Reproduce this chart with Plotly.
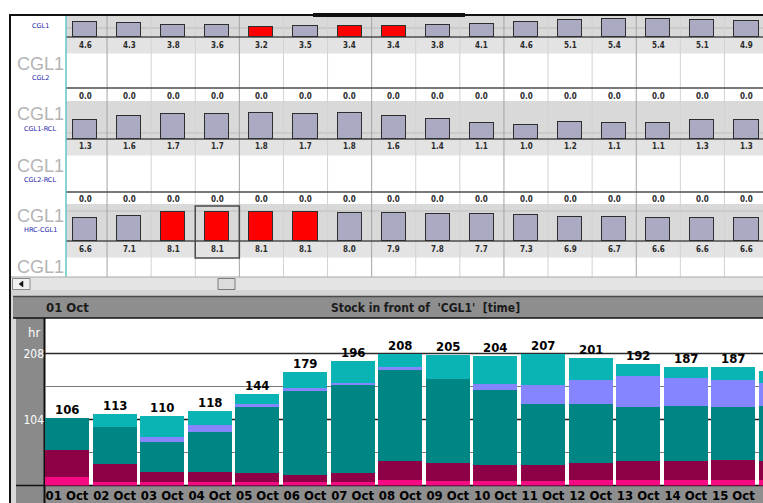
import plotly.graph_objects as go

# ---------------- data ----------------
DAYS = ["01 Oct", "02 Oct", "03 Oct", "04 Oct", "05 Oct", "06 Oct", "07 Oct", "08 Oct",
        "09 Oct", "10 Oct", "11 Oct", "12 Oct", "13 Oct", "14 Oct", "15 Oct", "16 Oct"]

ROW_TITLE = "CGL1"
ROW_SUBTITLES = ["CGL1", "CGL2", "CGL1-RCL", "CGL2-RCL", "HRC-CGL1"]

CGL1_VALUES = [4.6, 4.3, 3.8, 3.6, 3.2, 3.5, 3.4, 3.4, 3.8, 4.1, 4.6, 5.1, 5.4, 5.4, 5.1, 4.9]
CGL2_VALUES = [0.0, 0.0, 0.0, 0.0, 0.0, 0.0, 0.0, 0.0, 0.0, 0.0, 0.0, 0.0, 0.0, 0.0, 0.0, 0.0]
CGL1_RCL_VALUES = [1.3, 1.6, 1.7, 1.7, 1.8, 1.7, 1.8, 1.6, 1.4, 1.1, 1.0, 1.2, 1.1, 1.1, 1.3, 1.3]
CGL2_RCL_VALUES = [0.0, 0.0, 0.0, 0.0, 0.0, 0.0, 0.0, 0.0, 0.0, 0.0, 0.0, 0.0, 0.0, 0.0, 0.0, 0.0]
HRC_CGL1_VALUES = [6.6, 7.1, 8.1, 8.1, 8.1, 8.1, 8.0, 7.9, 7.8, 7.7, 7.3, 6.9, 6.7, 6.6, 6.6, 6.6]

CGL1_LOW_LIMIT = 3.45
HRC_HIGH_LIMIT = 8.05

STOCK_PINK = [13, 5, 5, 5, 5, 5, 5, 8, 7, 7, 7, 8, 9, 8, 8, 8]
STOCK_MAROON = [43, 29, 16, 16, 14, 11, 14, 30, 28, 26, 26, 28, 30, 30, 32, 30]
STOCK_TEAL = [50, 58, 47, 63, 104, 134, 140, 145, 133, 118, 96, 93, 85, 88, 83, 88]
STOCK_LAVENDER = [0, 0, 9, 12, 6, 3, 3, 3, 0, 9, 29, 37, 48, 44, 43, 35]
STOCK_CYAN = [0, 21, 33, 22, 15, 26, 34, 22, 37, 44, 49, 35, 20, 17, 21, 20]

Y_TICKS = [104, 208]
Y_UNIT = "hr"
CHART_TITLE = "Stock in front of\u00a0\u00a0'CGL1'\u00a0\u00a0[time]"
CURRENT_DAY = "01 Oct"

# ---------------- layout helpers ----------------
W, H = 763, 503
NARROW = "DejaVu Sans Condensed, Liberation Sans Narrow, Arial Narrow, sans-serif"
SANS = "Liberation Sans, Arial, sans-serif"


def px(x):
    return x / W


def py(y):
    return 1 - y / H


shapes = []
annotations = []


def rect(x0, y0, x1, y1, fill, line=None, lw=0, layer="below"):
    shapes.append(dict(type="rect", xref="paper", yref="paper",
                       x0=px(x0), x1=px(x1), y0=py(y1), y1=py(y0),
                       fillcolor=fill, line=dict(color=line or fill, width=lw),
                       layer=layer))


def hline(y, x0, x1, color, width=1):
    shapes.append(dict(type="line", xref="paper", yref="paper",
                       x0=px(x0), x1=px(x1), y0=py(y), y1=py(y),
                       line=dict(color=color, width=width), layer="below"))


def vline(x, y0, y1, color, width=1):
    shapes.append(dict(type="line", xref="paper", yref="paper",
                       x0=px(x), x1=px(x), y0=py(y0), y1=py(y1),
                       line=dict(color=color, width=width), layer="below"))


def label(x, y, text, font, xanchor="center"):
    annotations.append(dict(xref="paper", yref="paper", x=px(x), y=py(y), text=text,
                            xanchor=xanchor, yanchor="middle", showarrow=False, font=font))


# column geometry of the upper grid (pixel center of first column, column pitch)
COL0, COLW = 85, 44.1
GRID_LEFT = 66
TOP_X_RANGE = [(GRID_LEFT - COL0) / COLW, (W - COL0) / COLW]

# bottom chart geometry
BAR0, BARW = 67, 47.6
CH_LEFT, CH_TOP, CH_BASE = 45, 318, 485.5
CH_SCALE = 66 / 104.0
BOT_X_RANGE = [(CH_LEFT - BAR0) / BARW, (W - BAR0) / BARW]

fig = go.Figure()
layout = dict(width=W, height=H, margin=dict(l=0, r=0, t=0, b=0),
              paper_bgcolor="white", plot_bgcolor="rgba(0,0,0,0)",
              showlegend=False, barmode="stack", bargap=0)

# ---------------- upper grid backgrounds ----------------
# row geometry: (band top, baseline, label y, px per unit, shaded)
ROW_GEOM = [
    (16, 37, 45, 3.25, True),
    (53, 88, 96.5, 1.0, False),
    (101, 139, 146.5, 14.5, True),
    (155, 192, 199, 1.0, False),
    (204, 241, 249.5, 3.52, True),
]
ROW_DATA = [CGL1_VALUES, CGL2_VALUES, CGL1_RCL_VALUES, CGL2_RCL_VALUES, HRC_CGL1_VALUES]

for (top, base, laby, sc, shaded) in ROW_GEOM:
    if shaded:
        rect(GRID_LEFT, top, W, base, "#d9d9d9")
        rect(GRID_LEFT, base, W, base + 16.5, "#e3e3e3")

# faint target lines inside bar bands
for yy in (28, 133, 211):
    hline(yy, GRID_LEFT, W, "#bdbdbd", 1)

# column separators
for k in range(16):
    dark = k % 3 == 0 and k <= 12
    shapes.append(dict(type="line", xref="x", yref="paper", x0=k + 0.5, x1=k + 0.5,
                       y0=py(277), y1=py(16),
                       line=dict(color="#a4a4a4" if dark else "#d2d2d2", width=1),
                       layer="below"))

# baselines
for (top, base, laby, sc, shaded) in ROW_GEOM:
    hline(base, GRID_LEFT, W, "#4d4d4d", 1.5)

vline(GRID_LEFT, 16, 277, "#5cc8c8", 1.5)

# outer borders
hline(15, 10, W, "#111111", 2)
hline(15, 313, 465, "#111111", 4)
vline(10, 14, H, "#111111", 2)

# scrollbar
rect(11, 277, W, 290, "#e4e4e4")
hline(277, 11, W, "#a8a8a8", 1)
rect(12.5, 278.5, 30, 289.5, "#f0f0f0", "#8a8a8a", 1)
shapes.append(dict(type="path", xref="paper", yref="paper",
                   path="M %f %f L %f %f L %f %f Z" % (px(19), py(284), px(23), py(281), px(23), py(287)),
                   fillcolor="#111111", line=dict(color="#111111", width=0.5), layer="below"))
rect(218, 278.5, 235, 289.5, "#dcdcdc", "#7a7a7a", 1)

# lower panel frame
rect(11, 290, W, 296, "#d4d4d4")
rect(11, 296, 16, H, "#d8d8d8")
rect(13, 296, W, 318, "#8e8e8e")
hline(296.5, 13, W, "#4a4a4a", 1.5)
rect(16, 318, CH_LEFT, H, "#8a8a8a")
rect(CH_LEFT, CH_BASE, W, H, "#8e8e8e")
hline(318, 13, W, "#111111", 1.5)
hline(CH_BASE, 16, W, "#111111", 1.5)
vline(CH_LEFT - 0.5, 318, H, "#111111", 2)

# gridlines of the stock chart (value scale)
for v, col, wd in ((52, "#7a7a7a", 1), (156, "#7a7a7a", 1), (104, "#1a1a1a", 1.5), (208, "#2a2a2a", 1.5)):
    shapes.append(dict(type="line", xref="paper", yref="y6", x0=px(CH_LEFT), x1=1,
                       y0=v, y1=v, line=dict(color=col, width=wd), layer="below"))

# ---------------- upper grid bars ----------------
for r, ((top, base, laby, sc, shaded), vals) in enumerate(zip(ROW_GEOM, ROW_DATA)):
    n = r + 1
    xa = "x%d" % n if n > 1 else "x"
    ya = "y%d" % n if n > 1 else "y"
    if r == 0:
        colors = ["#ff0000" if v < CGL1_LOW_LIMIT else "#aaaac2" for v in vals]
    elif r == 4:
        colors = ["#ff0000" if v > HRC_HIGH_LIMIT else "#aaaac2" for v in vals]
    else:
        colors = ["#aaaac2" for v in vals]
    fig.add_trace(go.Bar(x=list(range(len(vals))), y=vals, width=0.545,
                         marker=dict(color=colors, line=dict(color="#2e2e2e", width=1.5 if max(vals) > 0 else 0)),
                         xaxis=xa, yaxis=ya, hoverinfo="skip"))
    layout["xaxis" if n == 1 else "xaxis%d" % n] = dict(
        domain=[px(GRID_LEFT), 1], range=TOP_X_RANGE, visible=False, fixedrange=True, anchor=ya)
    layout["yaxis" if n == 1 else "yaxis%d" % n] = dict(
        domain=[py(base), py(top)], range=[0, (base - top) / sc], visible=False,
        fixedrange=True, anchor=xa)
    for i, v in enumerate(vals):
        annotations.append(dict(xref=xa, yref="paper", x=i, y=py(laby), text="<b>%.1f</b>" % v,
                                xanchor="center", yanchor="middle",
                                showarrow=False, font=dict(family=NARROW, size=8, color="#2a2a2a")))

# selected cell outline
shapes.append(dict(type="rect", xref="x5", yref="paper", x0=2.5, x1=3.5,
                   y0=py(258), y1=py(206), line=dict(color="#4a4a4a", width=1.5),
                   fillcolor="rgba(0,0,0,0)", layer="above"))

# left row labels
BIG_Y = [63.5, 114.5, 165.5, 215.5, 267]
SMALL_Y = [26, 78, 129, 180, 230]
for yy in BIG_Y:
    label(40, yy, ROW_TITLE, dict(family=SANS, size=18, color="#b5b5b5"))
for yy, t in zip(SMALL_Y, ROW_SUBTITLES):
    label(40, yy, t, dict(family="DejaVu Sans, sans-serif", size=6.5, color="#1c1ca8"))

# ---------------- stock chart ----------------
STACK = [(STOCK_PINK, "#f40a82"), (STOCK_MAROON, "#8e0046"), (STOCK_TEAL, "#008585"),
         (STOCK_LAVENDER, "#8585ff"), (STOCK_CYAN, "#0ab4b4")]
idx = list(range(len(DAYS)))
for vals, col in STACK:
    fig.add_trace(go.Bar(x=idx, y=vals, width=0.925, marker=dict(color=col, line=dict(width=0)),
                         xaxis="x6", yaxis="y6", hoverinfo="skip"))

totals = [sum(s) for s in zip(*[v for v, _ in STACK])]
for i, t in enumerate(totals):
    annotations.append(dict(xref="x6", yref="y6", x=i, y=t, xanchor="center", yanchor="bottom",
                            yshift=-1, text="<b>%d</b>" % t, showarrow=False,
                            font=dict(family=NARROW, size=13, color="#000000")))

layout["xaxis6"] = dict(domain=[px(CH_LEFT), 1], range=BOT_X_RANGE, anchor="y6",
                        tickmode="array", tickvals=idx, ticktext=["<b>%s</b>" % d for d in DAYS],
                        tickfont=dict(family=NARROW, size=13, color="#000000"),
                        ticks="", showgrid=False, zeroline=False, showline=False, fixedrange=True)
layout["yaxis6"] = dict(domain=[py(CH_BASE), py(CH_TOP)], range=[0, (CH_BASE - CH_TOP) / CH_SCALE],
                        anchor="x6", tickmode="array", tickvals=Y_TICKS,
                        ticktext=[str(v) for v in Y_TICKS],
                        tickfont=dict(family=NARROW, size=12, color="#ffffff"),
                        ticks="", showgrid=False, zeroline=False, showline=False, fixedrange=True)

label(42, 332, Y_UNIT, dict(family=NARROW, size=13, color="#ffffff"), xanchor="right")
label(67, 307.5, "<b>%s</b>" % CURRENT_DAY, dict(family=NARROW, size=13, color="#1a1a1a"))
label(425, 307.5, "<b>%s</b>" % CHART_TITLE, dict(family=NARROW, size=12, color="#1a1a1a"))

layout["shapes"] = shapes
layout["annotations"] = annotations
fig.update_layout(**layout)
fig.write_html("out.html", config={"displayModeBar": False},
               post_script="document.body.style.margin='0';document.body.style.padding='0';")
